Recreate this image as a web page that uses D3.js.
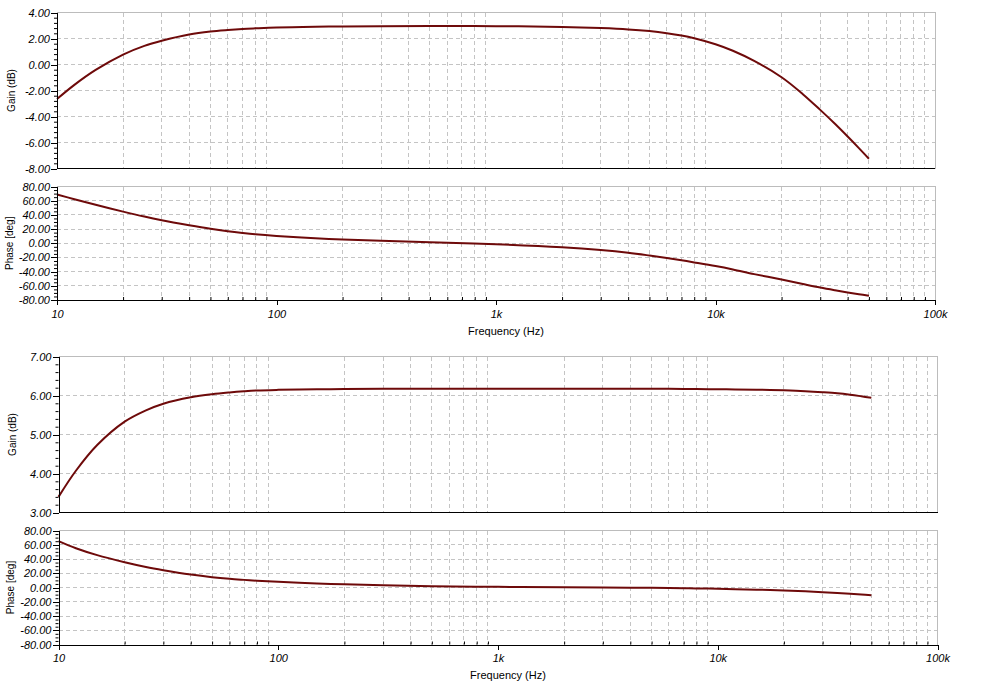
<!DOCTYPE html>
<html>
<head>
<meta charset="utf-8">
<script src="https://cdn.jsdelivr.net/npm/d3@7"></script>
<style>
  html, body { margin: 0; padding: 0; background: #fff; }
  svg { display: block; font-family: "Liberation Sans", Arial, sans-serif; }
  .tick text { font-size: 11px; font-style: italic; fill: #000; }
  .domain { stroke: #000; }
  .tick line { stroke: #000; }
</style>
</head>
<body>
<svg id="chart" width="986" height="699"></svg>
<script>
// ---- data ----
const freqs  = [10, 12, 15, 20, 25, 30, 40, 50, 60, 70, 80, 100, 150, 200, 300, 500, 1000, 2000, 3000, 4000, 5000, 6000, 7000, 8000, 10000, 12000, 15000, 20000, 25000, 30000, 35000, 40000, 45000, 50000];
const gain1  = [-2.66, -1.57, -0.42, 0.76, 1.43, 1.82, 2.30, 2.53, 2.65, 2.73, 2.78, 2.85, 2.91, 2.93, 2.95, 2.96, 2.95, 2.89, 2.80, 2.70, 2.57, 2.41, 2.23, 2.02, 1.56, 1.06, 0.28, -0.98, -2.28, -3.49, -4.56, -5.54, -6.43, -7.25];
const phase1 = [68.6, 62.1, 54.3, 44.6, 37.6, 32.5, 25.5, 20.5, 17.0, 14.5, 12.6, 10.2, 6.9, 5.2, 3.35, 1.35, -1.45, -5.7, -9.6, -13.4, -17.3, -20.8, -24.0, -27.0, -32.2, -37.0, -43.5, -51.2, -57.5, -62.5, -66.3, -69.4, -71.9, -74.0];
const gain2  = [3.40, 4.07, 4.73, 5.33, 5.62, 5.79, 5.955, 6.035, 6.08, 6.11, 6.13, 6.145, 6.16, 6.165, 6.17, 6.17, 6.17, 6.17, 6.17, 6.17, 6.17, 6.17, 6.168, 6.166, 6.16, 6.157, 6.149, 6.132, 6.112, 6.086, 6.058, 6.021, 5.98, 5.94];
const phase2 = [65, 55.1, 45.4, 35.5, 28.8, 24.3, 18.2, 14.5, 12.2, 10.7, 9.5, 7.9, 5.6, 4.6, 3.2, 1.8, 0.9, 0.4, 0.1, -0.2, -0.5, -0.8, -1.05, -1.3, -1.8, -2.3, -3.0, -4.2, -5.4, -6.6, -7.7, -8.8, -9.8, -10.8];
const xTickValues = [10, 100, 1000, 10000, 100000];
const xTickLabels = ["10", "100", "1k", "10k", "100k"];
const gain1Ticks = [-8, -6, -4, -2, 0, 2, 4];
const phaseTicks = [-80, -60, -40, -20, 0, 20, 40, 60, 80];
const gain2Ticks = [3, 4, 5, 6, 7];
const gainLabel = "Gain (dB)";
const phaseLabel = "Phase [deg]";
const freqLabel = "Frequency (Hz)";

// ---- layout ----
const svg = d3.select("#chart");
const lineColor = "#6e0a0a";
const gridColor = "#c4c4c4";
const borderColor = "#bcbcbc";

const minorX = [];
for (let d = 10; d < 100000; d *= 10) for (let k = 2; k <= 9; k++) minorX.push(d * k);
const gridX = minorX.slice();

function panel(opts) {
  const { left, right, top, bottom, domain, ticks, minorDiv, values, ylabel, labelX, xAxis } = opts;
  const x = d3.scaleLog().domain([10, 100000]).range([left, right]);
  const y = d3.scaleLinear().domain(domain).range([bottom, top]);
  const g = svg.append("g");

  // grid
  g.append("g").selectAll("line").data(gridX).join("line")
    .attr("x1", d => x(d)).attr("x2", d => x(d))
    .attr("y1", top).attr("y2", bottom)
    .attr("stroke", gridColor).attr("stroke-dasharray", "4,3").attr("shape-rendering", "crispEdges");
  g.append("g").selectAll("line").data(ticks.filter(t => t !== domain[0] && t !== domain[1])).join("line")
    .attr("x1", left).attr("x2", right)
    .attr("y1", d => y(d)).attr("y2", d => y(d))
    .attr("stroke", gridColor).attr("stroke-dasharray", "4,3").attr("shape-rendering", "crispEdges");

  // border top/right
  g.append("path")
    .attr("d", `M${left},${top}H${right}V${bottom}`)
    .attr("fill", "none").attr("stroke", borderColor).attr("shape-rendering", "crispEdges");

  // curve
  const pts = freqs.map((f, i) => [f, values[i]]);
  g.append("path").datum(pts)
    .attr("fill", "none").attr("stroke", lineColor).attr("stroke-width", 2)
    .attr("d", d3.line().x(d => x(d[0])).y(d => y(d[1])).curve(d3.curveCatmullRom.alpha(0.5)));

  // minor y ticks
  const minorY = [];
  const step = ticks[1] - ticks[0];
  for (let i = 0; i < ticks.length - 1; i++)
    for (let k = 1; k < minorDiv; k++) minorY.push(ticks[i] + step * k / minorDiv);
  g.append("g").attr("transform", `translate(${left},0)`)
    .call(d3.axisLeft(y).tickValues(minorY).tickSize(3).tickFormat(""))
    .call(s => s.select(".domain").remove());

  // y axis
  g.append("g").attr("transform", `translate(${left},0)`)
    .call(d3.axisLeft(y).tickValues(ticks).tickSize(6).tickSizeOuter(0).tickPadding(1)
      .tickFormat(d => d.toFixed(2)))
    .attr("shape-rendering", "crispEdges");

  // x axis
  if (xAxis) {
    g.append("g").attr("transform", `translate(0,${bottom})`)
      .call(d3.axisTop(x).tickValues(minorX).tickSize(3).tickFormat(""))
      .call(s => s.select(".domain").remove());
    g.append("g").attr("transform", `translate(0,${bottom})`)
      .call(d3.axisBottom(x).tickValues(xTickValues).tickSize(5).tickSizeOuter(0).tickPadding(5)
        .tickFormat((d, i) => xTickLabels[i]))
      .attr("shape-rendering", "crispEdges");
    g.append("text")
      .attr("x", (left + right) / 2 + 10).attr("y", bottom + 34.5)
      .attr("text-anchor", "middle").attr("font-size", 11).attr("fill", "#000")
      .text(freqLabel);
  } else {
    g.append("line").attr("x1", left).attr("x2", right).attr("y1", bottom).attr("y2", bottom)
      .attr("stroke", "#000").attr("shape-rendering", "crispEdges");
  }

  // y label
  g.append("text")
    .attr("transform", `translate(${labelX},${(top + bottom) / 2}) rotate(-90)`)
    .attr("text-anchor", "middle").attr("font-size", 10).attr("fill", "#000")
    .text(ylabel);
}

panel({ left: 57, right: 935, top: 12.5, bottom: 168.5, domain: [-8, 4], ticks: gain1Ticks, minorDiv: 5,
        values: gain1, ylabel: gainLabel, labelX: 14.5, xAxis: false });
panel({ left: 57, right: 935, top: 186.5, bottom: 300, domain: [-80, 80], ticks: phaseTicks, minorDiv: 4,
        values: phase1, ylabel: phaseLabel, labelX: 13, xAxis: true });
panel({ left: 58.5, right: 937.5, top: 356.5, bottom: 512.5, domain: [3, 7], ticks: gain2Ticks, minorDiv: 5,
        values: gain2, ylabel: gainLabel, labelX: 15.5, xAxis: false });
panel({ left: 58.5, right: 937.5, top: 530.5, bottom: 644.5, domain: [-80, 80], ticks: phaseTicks, minorDiv: 4,
        values: phase2, ylabel: phaseLabel, labelX: 14, xAxis: true });
</script>
</body>
</html>
